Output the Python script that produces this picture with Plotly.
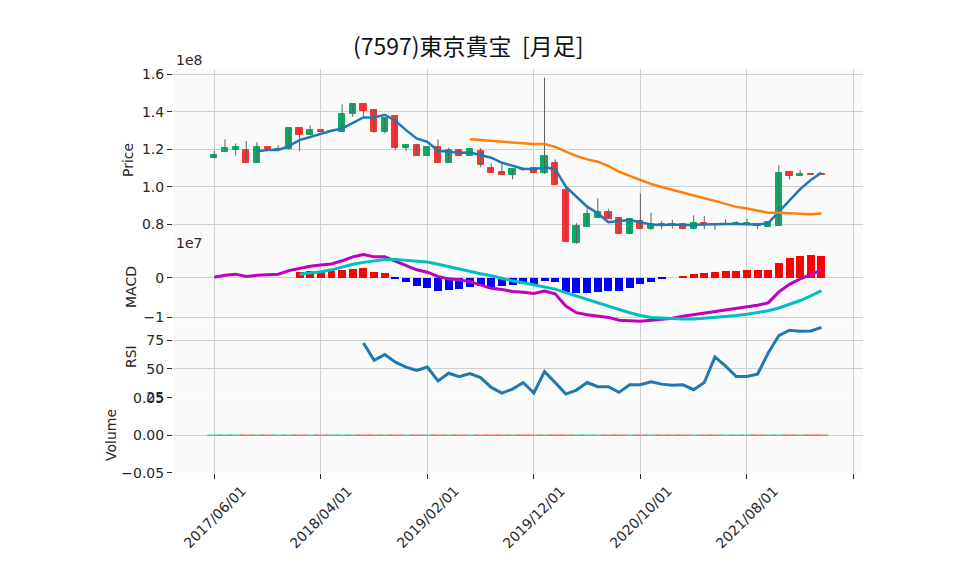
import pandas as pd
import plotly.graph_objects as go
from plotly.subplots import make_subplots

# monthly bars, 2017/06 .. 2022/03 (prices in units of 1e8, MACD in 1e7)
dates = pd.date_range("2017-06-01", periods=58, freq="MS")

opens = [1.156, 1.188, 1.197, 1.197, 1.129, 1.211, 1.200, 1.200, 1.312, 1.278,
         1.303, 1.296, 1.294, 1.387, 1.441, 1.410, 1.294, 1.378, 1.209, 1.222,
         1.166, 1.211, 1.129, 1.197, 1.166, 1.191, 1.101, 1.080, 1.065, 1.093,
         1.099, 1.076, 1.126, 0.984, 0.704, 0.789, 0.834, 0.867, 0.835, 0.748,
         0.818, 0.775, 0.803, 0.800, 0.800, 0.775, 0.807, 0.800, 0.803, 0.804,
         0.806, 0.800, 0.789, 0.794, 1.080, 1.060, 1.071, 1.069]
highs = [1.193, 1.254, 1.232, 1.245, 1.238, 1.211, 1.222, 1.312, 1.312, 1.328,
         1.303, 1.305, 1.440, 1.441, 1.441, 1.410, 1.369, 1.378, 1.222, 1.230,
         1.215, 1.254, 1.210, 1.197, 1.207, 1.207, 1.126, 1.120, 1.096, 1.096,
         1.099, 1.583, 1.147, 0.996, 0.807, 0.887, 0.940, 0.883, 0.835, 0.835,
         0.966, 0.863, 0.818, 0.825, 0.800, 0.849, 0.846, 0.800, 0.828, 0.818,
         0.831, 0.800, 0.815, 1.115, 1.080, 1.090, 1.074, 1.069]
lows = [1.152, 1.185, 1.169, 1.129, 1.129, 1.200, 1.198, 1.200, 1.191, 1.278,
        1.294, 1.294, 1.294, 1.374, 1.374, 1.289, 1.286, 1.197, 1.191, 1.166,
        1.166, 1.129, 1.129, 1.166, 1.166, 1.105, 1.076, 1.065, 1.041, 1.085,
        1.076, 1.069, 1.009, 0.706, 0.697, 0.789, 0.834, 0.831, 0.748, 0.748,
        0.775, 0.770, 0.775, 0.779, 0.775, 0.775, 0.775, 0.771, 0.803, 0.803,
        0.805, 0.775, 0.789, 0.794, 1.041, 1.060, 1.065, 1.066]
closes = [1.170, 1.207, 1.213, 1.129, 1.211, 1.200, 1.202, 1.312, 1.278, 1.303,
          1.294, 1.300, 1.387, 1.441, 1.406, 1.294, 1.369, 1.207, 1.222, 1.166,
          1.211, 1.129, 1.197, 1.166, 1.202, 1.117, 1.076, 1.065, 1.096, 1.090,
          1.076, 1.166, 1.009, 0.706, 0.793, 0.856, 0.867, 0.831, 0.748, 0.831,
          0.775, 0.803, 0.794, 0.792, 0.775, 0.807, 0.800, 0.798, 0.805, 0.806,
          0.808, 0.791, 0.815, 1.074, 1.060, 1.071, 1.065, 1.066]
volumes = [0.0] * 58

# 5 month and 25 month moving averages (start at index 4 and 24)
ma_short = [1.191, 1.197, 1.197, 1.218, 1.250, 1.268, 1.286, 1.300, 1.312, 1.342,
            1.371, 1.371, 1.385, 1.353, 1.303, 1.259, 1.241, 1.193, 1.186, 1.182,
            1.184, 1.170, 1.156, 1.129, 1.115, 1.097, 1.094, 1.105, 1.096, 1.002,
            0.948, 0.895, 0.860, 0.812, 0.818, 0.824, 0.812, 0.800, 0.797, 0.800,
            0.797, 0.799, 0.800, 0.801, 0.802, 0.802, 0.803, 0.800, 0.807, 0.869,
            0.931, 0.989, 1.037, 1.076]
ma_long = [1.254, 1.250, 1.247, 1.241, 1.237, 1.232, 1.229, 1.229, 1.214, 1.188,
           1.165, 1.147, 1.135, 1.112, 1.081, 1.059, 1.037, 1.016, 1.000, 0.984,
           0.968, 0.954, 0.940, 0.926, 0.910, 0.894, 0.885, 0.874, 0.863, 0.862,
           0.860, 0.858, 0.855, 0.858]

macd = [0.01, 0.06, 0.09, 0.03, 0.06, 0.08, 0.09, 0.18, 0.24, 0.29,
        0.32, 0.35, 0.43, 0.53, 0.59, 0.53, 0.53, 0.42, 0.32, 0.20,
        0.14, 0.03, -0.03, -0.05, -0.10, -0.19, -0.27, -0.30, -0.35, -0.37,
        -0.40, -0.34, -0.41, -0.72, -0.89, -0.94, -0.97, -1.01, -1.08, -1.09,
        -1.11, -1.08, -1.06, -1.03, -0.98, -0.94, -0.90, -0.86, -0.81, -0.77,
        -0.74, -0.70, -0.64, -0.36, -0.17, -0.03, 0.08, 0.20]
signal = [0.09, 0.12, 0.15, 0.20, 0.27, 0.34, 0.39, 0.43, 0.46, 0.46,
          0.44, 0.42, 0.40, 0.34, 0.28, 0.21, 0.15, 0.10, 0.05, -0.02,
          -0.08, -0.13, -0.18, -0.23, -0.29, -0.38, -0.47, -0.55, -0.64, -0.72,
          -0.81, -0.89, -0.96, -1.01, -1.03, -1.04, -1.05, -1.05, -1.03, -1.01,
          -0.99, -0.96, -0.93, -0.89, -0.84, -0.77, -0.68, -0.58, -0.46, -0.33]
macd_hist = [0.15, 0.16, 0.17, 0.18, 0.20, 0.22, 0.25, 0.15, 0.12, -0.01,
             -0.10, -0.20, -0.25, -0.33, -0.31, -0.28, -0.23, -0.21, -0.23, -0.21,
             -0.19, -0.17, -0.16, -0.08, -0.10, -0.36, -0.40, -0.40, -0.36, -0.33,
             -0.33, -0.25, -0.17, -0.11, -0.03, 0.0, 0.04, 0.09, 0.11, 0.14,
             0.17, 0.17, 0.20, 0.20, 0.20, 0.37, 0.49, 0.55, 0.58, 0.55]

rsi = [72.4, 57.4, 62.3, 55.7, 51.4, 48.5, 51.4, 39.3, 46.0, 43.1,
       45.7, 42.2, 33.6, 28.7, 32.2, 37.9, 28.7, 47.4, 37.9, 27.8,
       31.3, 37.9, 34.2, 34.2, 29.3, 35.9, 35.9, 38.5, 36.5, 35.6,
       35.9, 31.6, 37.9, 60.3, 52.3, 43.1, 43.1, 45.1, 63.8, 79.0,
       83.6, 82.8, 83.0, 86.2]

UP, DOWN, WICK = "#00b060", "#fe3032", "#606060"
FONT = "DejaVu Sans"
TITLE_FONT = "Noto Sans CJK JP"
TXT = "#262626"

n = len(dates)
idx = list(range(n))
up = [c >= o for o, c in zip(opens, closes)]
candle_col = [UP if u else DOWN for u in up]
vol_col = ["#4dc790" if u else "#fd6b6c" for u in up]

fig = make_subplots(rows=4, cols=1, shared_xaxes=True, vertical_spacing=0,
                    row_heights=[184, 72.7, 71.8, 75.5])

# wicks
wx, wy = [], []
for i in idx:
    wx += [i, i, None]
    wy += [lows[i], highs[i], None]
fig.add_trace(go.Scatter(x=wx, y=wy, mode="lines", line=dict(color=WICK, width=1),
                         hoverinfo="skip"), row=1, col=1)
# bodies
fig.add_trace(go.Bar(x=idx, base=[min(o, c) for o, c in zip(opens, closes)],
                     y=[max(abs(c - o), 0.001) for o, c in zip(opens, closes)],
                     width=0.58, marker=dict(color=candle_col, line=dict(color=candle_col, width=1))),
              row=1, col=1)
fig.add_trace(go.Scatter(x=idx[n - len(ma_short):], y=ma_short, mode="lines",
                         line=dict(color="#1f77b4", width=2.5)), row=1, col=1)
fig.add_trace(go.Scatter(x=idx[n - len(ma_long):], y=ma_long, mode="lines",
                         line=dict(color="#ff7f0e", width=2.5)), row=1, col=1)

# MACD
hist_x = idx[n - len(macd_hist):]
fig.add_trace(go.Bar(x=hist_x, y=macd_hist, width=0.75,
                     marker=dict(color=["#ff0000" if v >= 0 else "#0000ff" for v in macd_hist],
                                 line=dict(width=0))), row=2, col=1)
fig.add_trace(go.Scatter(x=idx, y=macd, mode="lines",
                         line=dict(color="#bf00bf", width=3)), row=2, col=1)
fig.add_trace(go.Scatter(x=idx[n - len(signal):], y=signal, mode="lines",
                         line=dict(color="#00bfbf", width=3)), row=2, col=1)

# RSI
fig.add_trace(go.Scatter(x=idx[n - len(rsi):], y=rsi, mode="lines",
                         line=dict(color="#1f77b4", width=3)), row=3, col=1)

# volume (all zero)
fig.add_trace(go.Scatter(x=idx, y=volumes, mode="markers",
                         marker=dict(symbol="line-ew-open", size=10, color=vol_col,
                                     line=dict(color=vol_col, width=1.5))), row=4, col=1)

tickvals = list(range(0, 61, 10))
ticktext = [dates[i].strftime("%Y/%m/%d") if i < n else "" for i in tickvals]
grid = "#d0d0d0"
for r in range(1, 5):
    fig.update_xaxes(row=r, col=1, range=[-3.88, 60.9], tickvals=tickvals,
                     showgrid=True, gridcolor=grid, gridwidth=1, zeroline=False,
                     showline=False, showticklabels=False)
fig.update_xaxes(row=4, col=1, ticks="outside", ticklen=5, tickcolor=TXT)

yax = dict(showgrid=True, gridcolor=grid, gridwidth=1, zeroline=False, ticks="outside",
           ticklen=5, tickcolor=TXT, tickfont=dict(size=14, color=TXT))
fig.update_yaxes(row=1, col=1, range=[0.648, 1.629], tickvals=[0.8, 1.0, 1.2, 1.4, 1.6],
                 ticktext=["0.8", "1.0", "1.2", "1.4", "1.6"], **yax)
fig.update_yaxes(row=2, col=1, range=[-1.221, 0.628], tickvals=[-1, 0],
                 ticktext=["\u22121", "0"], **yax)
fig.update_yaxes(row=3, col=1, range=[24.8, 87.6], tickvals=[25, 50, 75], **yax)
fig.update_yaxes(row=4, col=1, range=[-0.0504, 0.0504], tickvals=[-0.05, 0, 0.05],
                 ticktext=["\u22120.05", "0.00", "0.05"], **yax)

# plot area in page pixels: x 173..863, y 69..473 (page has an 8px body margin)
PX0, PX1, PY0, PY1 = 173, 863, 69, 473


def px(x):
    return (x - PX0) / (PX1 - PX0)


def py(y):
    return (PY1 - y) / (PY1 - PY0)


ann = []
# date labels, rotated and centred under their ticks
for v, t in zip(tickvals, ticktext):
    if t:
        ann.append(dict(text=t, x=v, xref="x4", y=py(516.5), yref="paper", textangle=-45,
                        showarrow=False, font=dict(size=14, color=TXT),
                        xanchor="center", yanchor="middle"))
for txt, x, y in [("Price", 128, 160), ("MACD", 131, 287), ("RSI", 131, 357), ("Volume", 111, 435)]:
    ann.append(dict(text=txt, x=px(x), y=py(y), xref="paper", yref="paper",
                    textangle=-90, showarrow=False, font=dict(size=14, color=TXT),
                    xanchor="center", yanchor="middle"))
for txt, y in [("1e8", 60), ("1e7", 243)]:
    ann.append(dict(text=txt, x=px(174), y=py(y), xref="paper", yref="paper",
                    showarrow=False, font=dict(size=14, color=TXT),
                    xanchor="left", yanchor="middle"))
ann.append(dict(text="(7597)東京貴宝  [月足]", x=px(468), y=py(45), xref="paper",
                yref="paper", showarrow=False, font=dict(size=23, color="#111", family=TITLE_FONT),
                xanchor="center", yanchor="middle"))

fig.update_layout(width=942, height=559,
                  margin=dict(l=PX0 - 8, r=942 - (PX1 - 8), t=PY0 - 8, b=559 - (PY1 - 8)),
                  paper_bgcolor="white", plot_bgcolor="#fafafa", showlegend=False,
                  bargap=0, font=dict(family=FONT), annotations=ann)

fig.write_html("out.html")
